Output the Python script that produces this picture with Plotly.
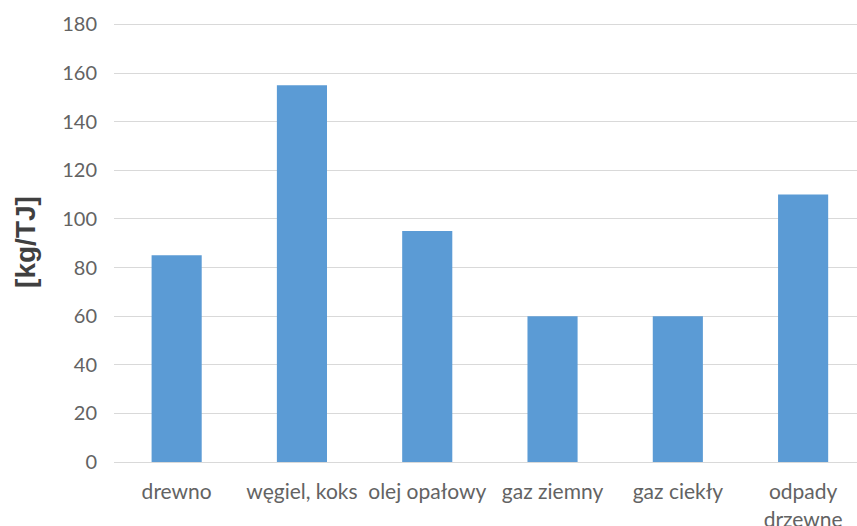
import plotly.graph_objects as go

categories = ["drewno", "węgiel, koks", "olej opałowy", "gaz ziemny", "gaz ciekły", "odpady<br>drzewne"]
values = [85, 155, 95, 60, 60, 110]
y_ticks = [0, 20, 40, 60, 80, 100, 120, 140, 160, 180]
y_title = "[kg/TJ]"

fig = go.Figure(
    go.Bar(
        x=list(range(len(categories))),
        y=values,
        marker=dict(color="#5b9bd5", line=dict(width=0)),
        width=0.4,
        hoverinfo="skip",
    )
)

fig.update_layout(
    width=857,
    height=526,
    margin=dict(l=114, r=0, t=22, b=64),
    paper_bgcolor="white",
    plot_bgcolor="white",
    showlegend=False,
    font=dict(family="Lato, 'Liberation Sans', sans-serif", color="#636363", size=21),
)

fig.update_xaxes(
    tickmode="array",
    tickvals=list(range(len(categories))),
    ticktext=categories,
    range=[-0.5, 5.43],
    showgrid=False,
    zeroline=False,
    showline=True,
    linecolor="#d9d9d9",
    linewidth=1,
    ticks="",
    ticklabelstandoff=11,
    automargin=False,
    tickfont=dict(size=21, color="#636363"),
)

fig.update_yaxes(
    range=[0, 181],
    tickmode="array",
    tickvals=y_ticks,
    showgrid=True,
    gridcolor="#d9d9d9",
    gridwidth=1,
    zeroline=False,
    ticks="",
    ticklabelstandoff=16,
    automargin=False,
    tickfont=dict(size=20, color="#636363"),
    title=dict(
        text=y_title,
        font=dict(family="'Liberation Sans', Arial, sans-serif", size=28, color="#404040", weight="bold"),
        standoff=18,
    ),
)

fig.write_html(
    "out.html",
    config={"displayModeBar": False},
    post_script="document.body.style.margin='0';document.body.style.overflow='hidden';",
)
